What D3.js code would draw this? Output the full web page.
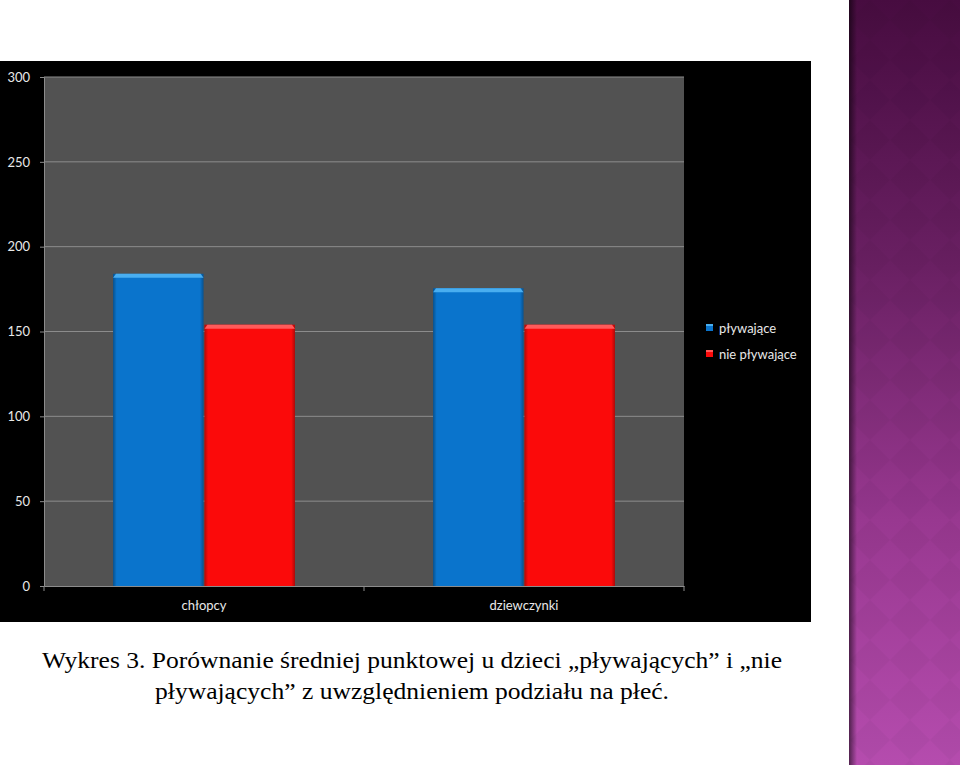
<!DOCTYPE html>
<html>
<head>
<meta charset="utf-8">
<script src="https://cdn.jsdelivr.net/npm/d3@7"></script>
<style>
  body { margin: 0; background: #fff; }
  svg { display: block; }
</style>
</head>
<body>
<svg id="chart" width="960" height="765"></svg>
<script>
// Data
const categories = ['chłopcy', 'dziewczynki'];
const seriesNames = ['pływające', 'nie pływające'];
const swimming = [184, 175.5];
const nonSwimming = [154, 154];
const yTicks = [0, 50, 100, 150, 200, 250, 300];
const captionLines = [
  'Wykres 3. Porównanie średniej punktowej u dzieci \u201Epływających\u201D i \u201Enie',
  'pływających\u201D z uwzględnieniem podziału na płeć.'
];

const seriesColors = ['#0a74cc', '#fb0a0a'];
const seriesHighlight = ['#49aef0', '#ff5a5a'];

const svg = d3.select('#chart');
const defs = svg.append('defs');

// Purple side strip
const stripGrad = defs.append('linearGradient')
  .attr('id', 'stripGrad').attr('x1', 0).attr('y1', 0).attr('x2', 0).attr('y2', 1);
stripGrad.append('stop').attr('offset', '0%').attr('stop-color', '#470c40');
stripGrad.append('stop').attr('offset', '35%').attr('stop-color', '#6a2063');
stripGrad.append('stop').attr('offset', '68%').attr('stop-color', '#983890');
stripGrad.append('stop').attr('offset', '100%').attr('stop-color', '#b54cae');

const edgeGrad = defs.append('linearGradient')
  .attr('id', 'edgeGrad').attr('x1', 0).attr('y1', 0).attr('x2', 1).attr('y2', 0);
edgeGrad.append('stop').attr('offset', '0%').attr('stop-color', '#000').attr('stop-opacity', 0.55);
edgeGrad.append('stop').attr('offset', '100%').attr('stop-color', '#000').attr('stop-opacity', 0);

const diamond = defs.append('pattern')
  .attr('id', 'diamond').attr('patternUnits', 'userSpaceOnUse')
  .attr('width', 40).attr('height', 40).attr('x', 850);
diamond.append('path')
  .attr('d', 'M20 0 L40 20 L20 40 L0 20 Z')
  .attr('fill', '#000').attr('opacity', 0.03);

svg.append('rect').attr('x', 849).attr('y', 0).attr('width', 111).attr('height', 765)
  .attr('fill', 'url(#stripGrad)');
svg.append('rect').attr('x', 849).attr('y', 0).attr('width', 111).attr('height', 765)
  .attr('fill', 'url(#diamond)');
svg.append('rect').attr('x', 849).attr('y', 0).attr('width', 8).attr('height', 765)
  .attr('fill', 'url(#edgeGrad)');

// Black chart panel
svg.append('rect').attr('x', 0).attr('y', 61).attr('width', 811).attr('height', 561)
  .attr('fill', '#000');

const plot = { left: 44, right: 684, top: 77, bottom: 586 };

const x0 = d3.scaleBand().domain(categories).range([plot.left, plot.right]);
const x1 = d3.scaleBand().domain(seriesNames).range([0, x0.bandwidth()])
  .paddingInner(0).paddingOuter(0.75);
const y = d3.scaleLinear().domain([0, 300]).range([plot.bottom, plot.top]);

svg.append('rect')
  .attr('x', plot.left).attr('y', plot.top)
  .attr('width', plot.right - plot.left).attr('height', plot.bottom - plot.top)
  .attr('fill', '#525252');

// Gridlines
svg.append('g').selectAll('line')
  .data(yTicks.filter(t => t > 0))
  .join('line')
  .attr('x1', plot.left).attr('x2', plot.right)
  .attr('y1', d => y(d)).attr('y2', d => y(d))
  .attr('stroke', '#8c8c8c').attr('stroke-width', 1);

// Bar shading
const sideGrad = defs.append('linearGradient')
  .attr('id', 'sideGrad').attr('x1', 0).attr('y1', 0).attr('x2', 1).attr('y2', 0);
sideGrad.append('stop').attr('offset', '0%').attr('stop-color', '#000').attr('stop-opacity', 0.3);
sideGrad.append('stop').attr('offset', '4%').attr('stop-color', '#000').attr('stop-opacity', 0);
sideGrad.append('stop').attr('offset', '96%').attr('stop-color', '#000').attr('stop-opacity', 0);
sideGrad.append('stop').attr('offset', '100%').attr('stop-color', '#000').attr('stop-opacity', 0.3);

const rows = categories.map((c, i) => ({
  cat: c,
  values: [swimming[i], nonSwimming[i]]
}));

const groups = svg.append('g').selectAll('g')
  .data(rows)
  .join('g')
  .attr('transform', d => `translate(${x0(d.cat)},0)`);

const bars = groups.selectAll('g')
  .data(d => d.values.map((v, j) => ({ name: seriesNames[j], v, j })))
  .join('g');

bars.append('rect')
  .attr('x', d => x1(d.name) + 0.5)
  .attr('y', d => y(d.v))
  .attr('width', x1.bandwidth() - 1)
  .attr('height', d => y(0) - y(d.v))
  .attr('fill', d => seriesColors[d.j]);

bars.append('rect')
  .attr('x', d => x1(d.name) + 0.5)
  .attr('y', d => y(d.v))
  .attr('width', x1.bandwidth() - 1)
  .attr('height', d => y(0) - y(d.v))
  .attr('fill', 'url(#sideGrad)');

// top bevel highlight
bars.append('path')
  .attr('d', d => {
    const xl = x1(d.name) + 0.5, xr = x1(d.name) + x1.bandwidth() - 0.5, yt = y(d.v);
    return `M${xl},${yt + 4} L${xl + 3},${yt} L${xr - 3},${yt} L${xr},${yt + 4} Z`;
  })
  .attr('fill', d => seriesHighlight[d.j]);

// Axes
const axisColor = '#8c8c8c';
const yAxis = svg.append('g')
  .attr('transform', `translate(${plot.left},0)`)
  .call(d3.axisLeft(y).tickValues(yTicks).tickSize(4).tickPadding(10));
yAxis.select('.domain').attr('stroke', axisColor);
yAxis.selectAll('.tick line').attr('stroke', axisColor);
yAxis.selectAll('.tick text')
  .attr('fill', '#e8e8e8')
  .style('font-family', 'Lato, "Open Sans", sans-serif')
  .style('font-size', '13px');

const xAxis = svg.append('g')
  .attr('transform', `translate(0,${plot.bottom})`)
  .call(d3.axisBottom(x0).tickSize(0).tickPadding(15));
xAxis.select('.domain').attr('stroke', axisColor);
xAxis.selectAll('.tick text')
  .attr('fill', '#e8e8e8')
  .style('font-family', 'Lato, "Open Sans", sans-serif')
  .style('font-size', '13px');

// category boundary ticks
svg.append('g').selectAll('line')
  .data([...categories.map(c => x0(c)), plot.right])
  .join('line')
  .attr('x1', d => d).attr('x2', d => d)
  .attr('y1', plot.bottom).attr('y2', plot.bottom + 5)
  .attr('stroke', axisColor);

// Legend
const legend = svg.append('g').attr('transform', 'translate(706,324)');
const li = legend.selectAll('g')
  .data(seriesNames)
  .join('g')
  .attr('transform', (d, i) => `translate(0,${i * 26})`);
li.append('rect')
  .attr('width', 7).attr('height', 7)
  .attr('fill', (d, i) => seriesColors[i]);
li.append('rect')
  .attr('width', 7).attr('height', 2)
  .attr('fill', (d, i) => seriesHighlight[i]);
li.append('text')
  .attr('x', 13).attr('y', 9)
  .attr('fill', '#e8e8e8')
  .style('font-family', 'Lato, "Open Sans", sans-serif')
  .style('font-size', '13px')
  .text(d => d);

// Caption
svg.append('g').selectAll('text')
  .data(captionLines)
  .join('text')
  .attr('x', 412)
  .attr('y', (d, i) => 668 + i * 31)
  .attr('text-anchor', 'middle')
  .attr('textLength', (d, i) => i === 0 ? 740 : 514)
  .attr('lengthAdjust', 'spacingAndGlyphs')
  .attr('fill', '#000')
  .style('font-family', '"Times New Roman", Times, "Liberation Serif", serif')
  .style('font-size', '24px')
  .text(d => d);
</script>
</body>
</html>
